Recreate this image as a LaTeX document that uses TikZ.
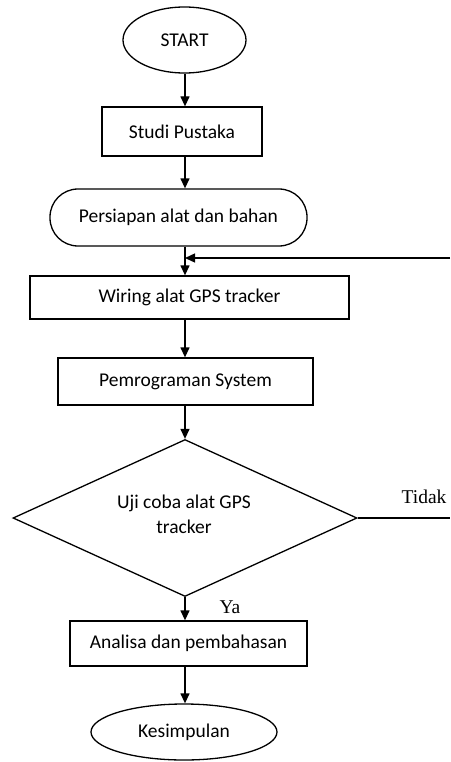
\documentclass[tikz,border=0pt]{standalone}
\usepackage{fontspec}
\setmainfont{Carlito}
\newfontfamily\serifone{Liberation Serif}
\usetikzlibrary{shapes.geometric,arrows.meta,calc}
\begin{document}
\begin{tikzpicture}[x=1pt,y=-1pt,
  every node/.style={font=\fontsize{19.5}{25}\selectfont, inner sep=0pt},
  line/.style={line width=1.3pt},
  arr/.style={line, -{Triangle[length=10pt,width=9pt]}},
  term/.style={draw, line width=1.3pt, ellipse},
  procbox/.style={draw, line width=1.3pt, rectangle},
  prep/.style={draw, line width=1.3pt, rectangle, rounded corners=28pt},
  decide/.style={draw, line width=1.3pt, diamond, aspect=2.19, align=center},
  lbl/.style={font=\serifone\fontsize{19.5}{22}\selectfont}
]
\useasboundingbox (0,0) rectangle (450,762);
\node[term, minimum width=123pt, minimum height=66pt] (start) at (184.5,40) {START};
\node[procbox, minimum width=160pt, minimum height=49pt] (studi) at (182,131.5) {Studi Pustaka};
\node[prep, minimum width=257pt, minimum height=57pt] (pers) at (178.5,217.5) {Persiapan alat dan bahan};
\node[procbox, minimum width=319pt, minimum height=43pt] (wiring) at (189.5,297.5) {Wiring alat GPS tracker};
\node[procbox, minimum width=255pt, minimum height=47pt] (prog) at (185.5,381.5) {Pemrograman System};
\node[decide, minimum width=344pt, minimum height=157pt] (uji) at (185,518) {};
\node (ujitxt) at (184,514.5) [align=center] {Uji coba alat GPS\\tracker};
\node[procbox, minimum width=237pt, minimum height=45pt] (anal) at (188.5,643.5) {Analisa dan pembahasan};
\node[term, minimum width=186pt, minimum height=56pt] (kes) at (184,732) {Kesimpulan};
\node[lbl] (tidak) at (424,497) {Tidak};
\node[lbl] (ya) at (230,607) {Ya};
\coordinate (spine) at (185,0);
\coordinate (fbR) at (450,258);
\coordinate (tR) at (450,518);
\draw[arr] (spine |- start.south) -- (spine |- studi.north);
\draw[arr] (spine |- studi.south) -- (spine |- pers.north);
\draw[arr] (spine |- pers.south) -- (spine |- wiring.north);
\draw[arr] (fbR) -- (spine |- fbR);
\draw[arr] (spine |- wiring.south) -- (spine |- prog.north);
\draw[arr] (spine |- prog.south) -- (uji.north);
\draw[arr] (uji.south) -- (spine |- anal.north);
\draw[arr] (spine |- anal.south) -- (spine |- kes.north);
\draw[line] (uji.east) -- (tR);
\end{tikzpicture}
\end{document}
